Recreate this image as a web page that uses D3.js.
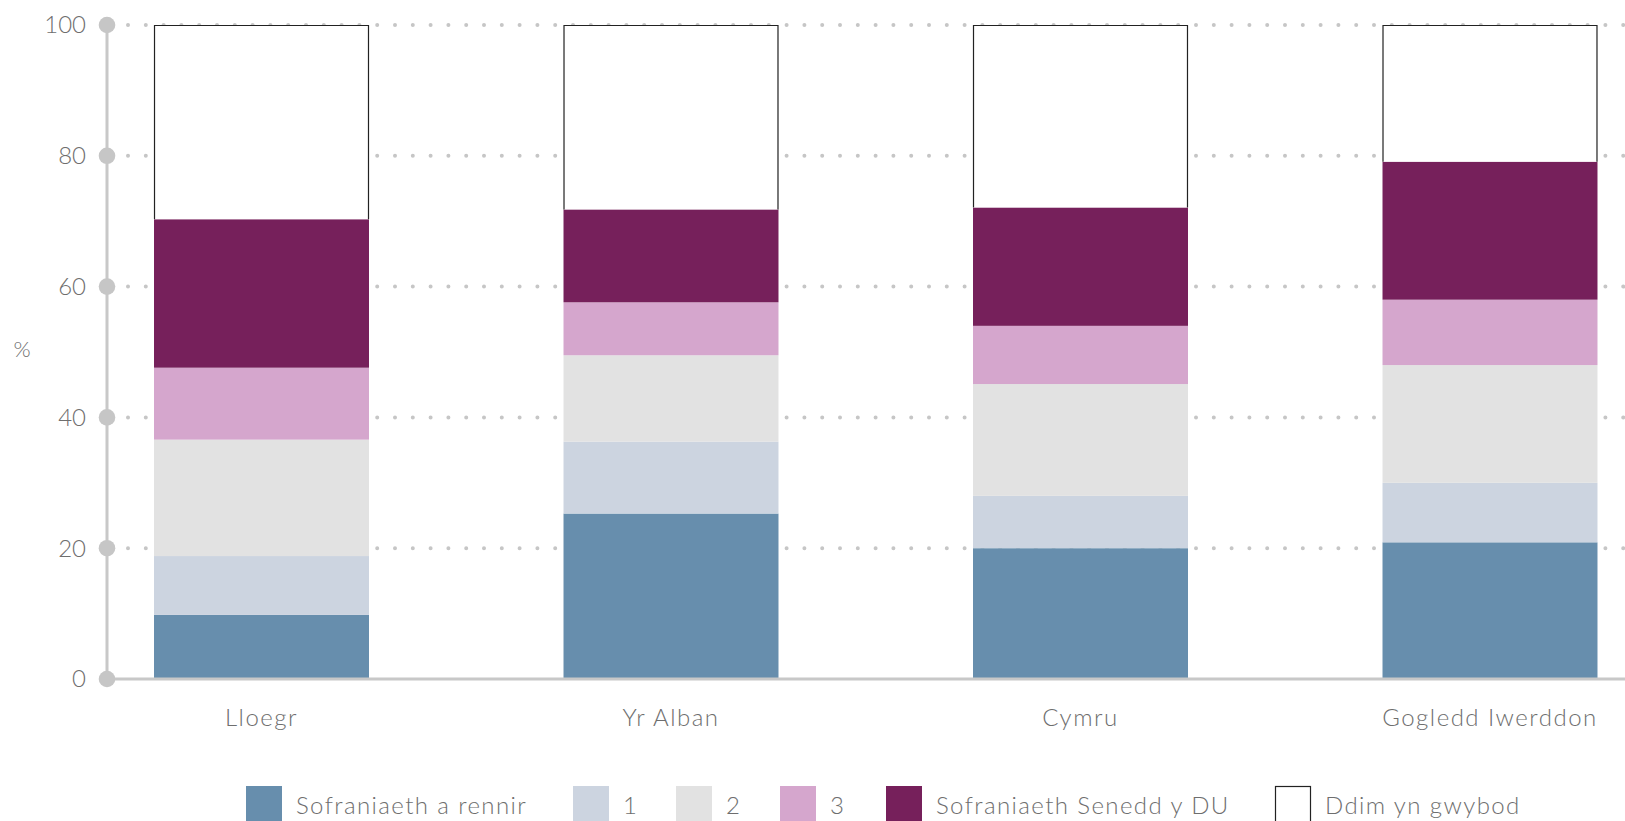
<!DOCTYPE html>
<html>
<head>
<meta charset="utf-8">
<script src="https://cdn.jsdelivr.net/npm/d3@7"></script>
<style>
  html, body { margin: 0; padding: 0; background: #fff; }
  svg { display: block; }
  text { font-family: Lato, "Open Sans", sans-serif; font-weight: 300; fill: #6e6e6e; }
</style>
</head>
<body>
<svg id="chart" width="1625" height="821"></svg>
<script>
// ---- data ----
const categories = ["Lloegr", "Yr Alban", "Cymru", "Gogledd Iwerddon"];
const seriesNames = ["Sofraniaeth a rennir", "1", "2", "3", "Sofraniaeth Senedd y DU", "Ddim yn gwybod"];
const sharedSovereignty = [9.8, 25.3, 20.0, 20.9];
const level1 = [9.0, 11.0, 8.0, 9.1];
const level2 = [17.8, 13.2, 17.1, 18.0];
const level3 = [11.0, 8.1, 8.9, 10.0];
const ukParliament = [22.7, 14.2, 18.1, 21.1];
const dontKnow = [29.7, 28.2, 27.9, 20.9];
const yTicks = [0, 20, 40, 60, 80, 100];
const colors = ["#678ead", "#ccd4e0", "#e2e2e2", "#d5a6cd", "#76205b", "#ffffff"];

// layout: legend swatch left edges (px)
const legendX = [246, 573, 676, 780, 886, 1275];

const seriesValues = [sharedSovereignty, level1, level2, level3, ukParliament, dontKnow];
const table = categories.map((c, i) => {
  const row = { category: c };
  seriesNames.forEach((s, j) => { row[s] = seriesValues[j][i]; });
  return row;
});

const svg = d3.select("#chart");
const axisX = 107;
const y = d3.scaleLinear().domain([0, 100]).range([679, 25]);
const x = d3.scaleBand().domain(categories).range([107, 1644.5])
  .paddingInner(0.475).paddingOuter(0.1148);

// grid (dotted)
svg.append("g").selectAll("line").data(yTicks.filter(d => d > 0)).join("line")
  .attr("x1", axisX + 21).attr("x2", 1625)
  .attr("y1", d => y(d)).attr("y2", d => y(d))
  .attr("stroke", "#c6c6c6").attr("stroke-width", 4)
  .attr("stroke-linecap", "round").attr("stroke-dasharray", "0,17.8");

// bars
const stack = d3.stack().keys(seriesNames)(table);
const layers = svg.append("g").selectAll("g").data(stack).join("g")
  .attr("fill", (d, i) => colors[i]);
layers.selectAll("rect").data(d => d).join("rect")
  .attr("x", d => x(d.data.category))
  .attr("width", x.bandwidth())
  .attr("y", d => y(d[1]))
  .attr("height", d => y(d[0]) - y(d[1]));
// outline for "don't know" segment
svg.append("g").selectAll("path").data(stack[5]).join("path")
  .attr("d", d => {
    const x0 = x(d.data.category) + 0.5, x1 = x(d.data.category) + x.bandwidth() - 0.5;
    const yt = y(d[1]) + 0.5, yb = y(d[0]);
    return `M${x0},${yb}V${yt}H${x1}V${yb}`;
  })
  .attr("fill", "none").attr("stroke", "#222").attr("stroke-width", 1.2);

// axes
svg.append("line").attr("x1", axisX).attr("x2", 1625).attr("y1", y(0)).attr("y2", y(0))
  .attr("stroke", "#c8c8c8").attr("stroke-width", 3);
svg.append("line").attr("x1", axisX).attr("x2", axisX).attr("y1", y(0)).attr("y2", y(100))
  .attr("stroke", "#c8c8c8").attr("stroke-width", 3);
svg.append("g").selectAll("circle").data(yTicks).join("circle")
  .attr("cx", axisX).attr("cy", d => y(d)).attr("r", 8.3).attr("fill", "#c6c6c6");
svg.append("g").selectAll("text").data(yTicks).join("text")
  .attr("x", 86).attr("y", d => y(d)).attr("dy", "0.35em")
  .attr("text-anchor", "end").attr("font-size", 24).text(d => d);

svg.append("text").attr("x", 22).attr("y", 349).attr("dy", "0.35em")
  .attr("text-anchor", "middle").attr("font-size", 22).text("%");

// category labels
svg.append("g").selectAll("text").data(categories).join("text")
  .attr("x", d => x(d) + x.bandwidth() / 2).attr("y", 726)
  .attr("text-anchor", "middle").attr("font-size", 24)
  .attr("letter-spacing", 1.5).text(d => d);

// legend
const lg = svg.append("g");
seriesNames.forEach((s, i) => {
  const lx = legendX[i];
  lg.append("rect").attr("x", lx + (i === 5 ? 0.5 : 0)).attr("y", 786 + (i === 5 ? 0.5 : 0))
    .attr("width", i === 5 ? 35 : 36).attr("height", 36)
    .attr("fill", colors[i]).attr("stroke", i === 5 ? "#222" : "none").attr("stroke-width", 1.2);
  lg.append("text").attr("x", lx + 36 + 14).attr("y", 814)
    .attr("font-size", 24).attr("letter-spacing", 1.4).text(s);
});
</script>
</body>
</html>
